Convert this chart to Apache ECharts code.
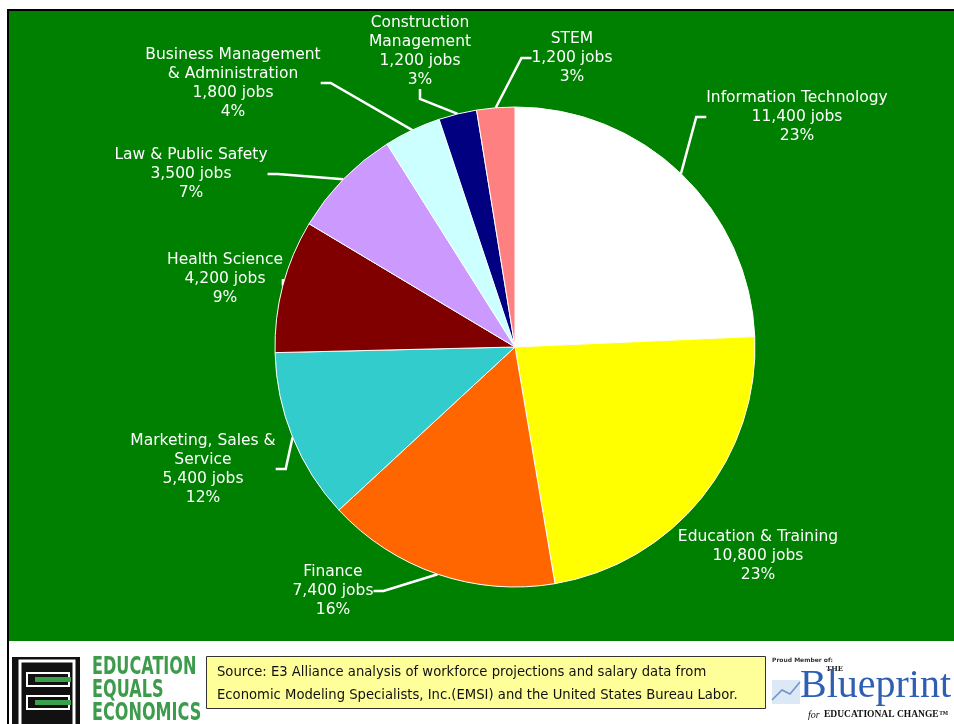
<!DOCTYPE html>
<html>
<head>
<meta charset="utf-8">
<script src="https://cdn.jsdelivr.net/npm/echarts@6/dist/echarts.min.js"></script>
<style>
html,body{margin:0;padding:0;background:#fff;}
#chart{width:954px;height:724px;}
</style>
</head>
<body>
<div id="chart"></div>
<script>
// ---- data ----
var categories = ['Information Technology', 'Education & Training', 'Finance', 'Marketing, Sales &\nService', 'Health Science', 'Law & Public Safety', 'Business Management\n& Administration', 'Construction\nManagement', 'STEM'];
var jobs = [11400, 10800, 7400, 5400, 4200, 3500, 1800, 1200, 1200];
var percentLabels = ['23%', '23%', '16%', '12%', '9%', '7%', '4%', '3%', '3%'];
var sliceColors = ['#FFFFFF', '#FFFF00', '#FF6600', '#33CCCC', '#800000', '#CC99FF', '#CCFFFF', '#000080', '#FF8080'];

// label layout (text block centre), kept separate from data
var labelPos = [[797,117],[758,556],[333,591],[203,469],[225,279],[191,174],[233,83],[420,51],[572,58]];
var showLeader = [true, false, true, true, true, true, true, true, true];

function fmt(n){ return n.toLocaleString('en-US'); }

var chart = echarts.init(document.getElementById('chart'), null, {renderer:'canvas'});

var seriesData = categories.map(function(c, i){
  return {name: c, value: jobs[i], itemStyle: {color: sliceColors[i]}, labelLine: {show: showLeader[i]}};
});

var option = {
  backgroundColor: '#ffffff',
  animation: false,
  graphic: [
    {type:'rect', z:-10, shape:{x:9,y:11,width:945,height:630}, style:{fill:'#008000'}},
    {type:'rect', z:-9, shape:{x:7,y:9,width:947,height:2}, style:{fill:'#000'}},
    {type:'rect', z:-9, shape:{x:7,y:9,width:2,height:715}, style:{fill:'#000'}},
    // E3 logo
    {type:'rect', shape:{x:12,y:657,width:68,height:70}, style:{fill:'#111'}},
    {type:'polyline', shape:{points:[[46,661],[20,661],[20,724]]}, style:{stroke:'#fff',lineWidth:3,fill:null}},
    {type:'polyline', shape:{points:[[46,661],[74,661],[74,724]]}, style:{stroke:'#fff',lineWidth:3,fill:null}},
    {type:'rect', shape:{x:27,y:673,width:42,height:13}, style:{fill:'none',stroke:'#fff',lineWidth:2}},
    {type:'rect', shape:{x:27,y:696,width:42,height:13}, style:{fill:'none',stroke:'#fff',lineWidth:2}},
    {type:'rect', shape:{x:35,y:677,width:36,height:5}, style:{fill:'#3aa04a'}},
    {type:'rect', shape:{x:35,y:700,width:36,height:5}, style:{fill:'#3aa04a'}},
    {type:'text', x:92, y:656, scaleX:0.67, style:{text:'EDUCATION\nEQUALS\nECONOMICS', fill:'#3d9b4c', font:'bold 24px "DejaVu Sans", sans-serif', lineHeight:23}},
    // Source box
    {type:'rect', shape:{x:206.5,y:656.5,width:559,height:52}, style:{fill:'#FFFF99', stroke:'#333', lineWidth:1}},
    {type:'text', left:217, top:661, style:{text:'Source: E3 Alliance analysis of workforce projections and salary data from\nEconomic Modeling Specialists, Inc.(EMSI) and the United States Bureau Labor.', fill:'#111', font:'13.2px "DejaVu Sans", Verdana, sans-serif', lineHeight:23}},
    // Blueprint logo
    {type:'text', left:772, top:657, style:{text:'Proud Member of:', fill:'#333', font:'bold 6px "DejaVu Sans", sans-serif'}},
    {type:'text', left:826, top:666, style:{text:'THE', fill:'#222', font:'bold 7px "DejaVu Serif", serif'}},
    {type:'rect', shape:{x:772,y:680,width:28,height:24}, style:{fill:'#dce8f6'}},
    {type:'polyline', shape:{points:[[772,700],[782,690],[790,694],[800,682]]}, style:{stroke:'#6f93c8',lineWidth:1.5,fill:null}},
    {type:'text', left:800, top:666, style:{text:'Blueprint', fill:'#2f5fb3', font:'40px "Liberation Serif", "DejaVu Serif", serif'}},
    {type:'text', left:808, top:710, style:{text:'for', fill:'#111', font:'italic 10px "Liberation Serif", "DejaVu Serif", serif'}},
    {type:'text', left:824, top:710, style:{text:'EDUCATIONAL CHANGE\u2122', fill:'#111', font:'bold 9.5px "Liberation Serif", "DejaVu Serif", serif'}}
  ],
  series: [{
    type: 'pie',
    center: [515, 347],
    radius: 240,
    startAngle: 90,
    clockwise: true,
    avoidLabelOverlap: false,
    data: seriesData,
    itemStyle: {borderColor:'#ffffff', borderWidth:1},
    emphasis: {disabled:true},
    label: {
      show: true,
      color: '#ffffff',
      fontFamily: '"DejaVu Sans", Verdana, sans-serif',
      fontSize: 15.5,
      lineHeight: 19,
      align: 'center',
      formatter: function(p){
        return categories[p.dataIndex] + '\n' + fmt(jobs[p.dataIndex]) + ' jobs\n' + percentLabels[p.dataIndex];
      }
    },
    labelLine: {show:true, length:15, length2:10, smooth:false, lineStyle:{color:'#ffffff', width:2.5}},
    labelLayout: function(params){
      var p = labelPos[params.dataIndex];
      return {x: p[0], y: p[1], align:'center', verticalAlign:'middle'};
    }
  }]
};
chart.setOption(option);
</script>
</body>
</html>
